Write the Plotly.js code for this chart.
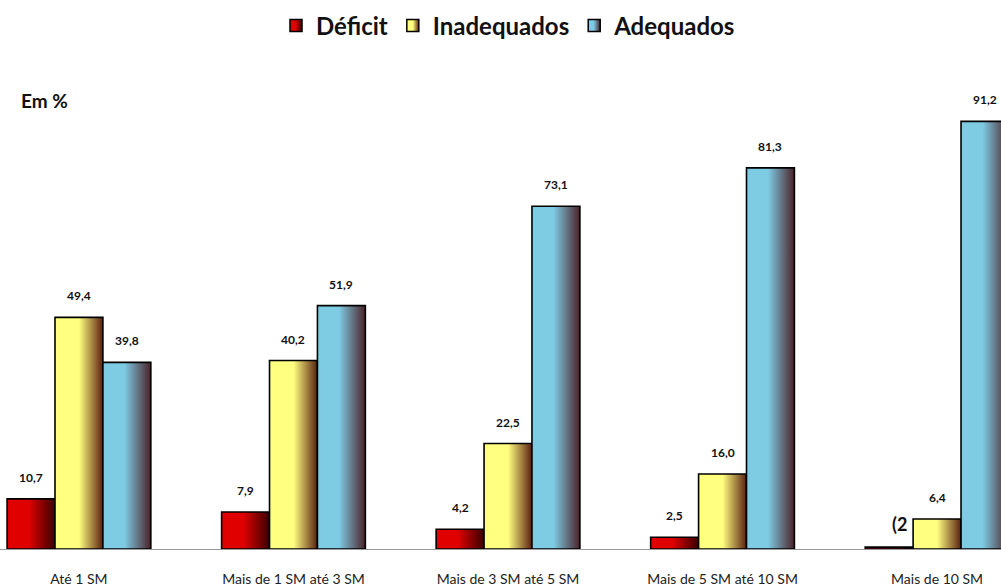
<!DOCTYPE html>
<html>
<head>
<meta charset="utf-8">
<script src="https://cdn.plot.ly/plotly-3.0.1.min.js"></script>
<style>html,body{margin:0;padding:0;background:#fff;}#chart{width:1001px;height:585px;}</style>
</head>
<body>
<div id="chart"></div>
<script>
const categories = ["Até 1 SM", "Mais de 1 SM até 3 SM", "Mais de 3 SM até 5 SM", "Mais de 5 SM até 10 SM", "Mais de 10 SM"];
const seriesNames = ["Déficit", "Inadequados", "Adequados"];
const deficit = [10.7, 7.9, 4.2, 2.5, 0.4];
const inadequados = [49.4, 40.2, 22.5, 16.0, 6.4];
const adequados = [39.8, 51.9, 73.1, 81.3, 91.2];
const deficitLabels = ["10,7", "7,9", "4,2", "2,5", "(2"];
const inadequadosLabels = ["49,4", "40,2", "22,5", "16,0", "6,4"];
const adequadosLabels = ["39,8", "51,9", "73,1", "81,3", "91,2"];

const baseColors = ["#e00000", "#ffff80", "#7ecbe4"];
const darkColors = ["#3a0000", "#5a2010", "#4a2228"];
const solidStops = [0.45, 0.5, 0.45];

const values = [deficit, inadequados, adequados];
const labels = [deficitLabels, inadequadosLabels, adequadosLabels];
const bargap = 0.33;
const w = (1 - bargap) / 3;

const traces = values.map((v, j) => ({
  type: "bar",
  name: seriesNames[j],
  x: categories,
  y: v,
  marker: {color: baseColors[j], line: {color: "#000", width: 1.6}},
  hoverinfo: "none"
}));

const font = "Lato, 'Open Sans', sans-serif";
const annotations = [];
values.forEach((v, j) => {
  v.forEach((val, i) => {
    const special = labels[j][i].startsWith("(");
    annotations.push({
      x: i + (j - 1) * w, y: val, xref: "x", yref: "y",
      text: labels[j][i], showarrow: false,
      yanchor: "bottom", xanchor: "center",
      yshift: special ? 10 : 12, xshift: special ? 10 : 0,
      font: {family: font, size: special ? 18 : 12, color: "#111", weight: "bold"}
    });
  });
});
annotations.push({
  xref: "paper", yref: "paper", x: 0.019, y: 0.918, xanchor: "left", yanchor: "middle",
  text: "Em %", showarrow: false,
  font: {family: font, size: 19, color: "#111", weight: "bold"}
});

const layout = {
  width: 1001, height: 585,
  margin: {l: 0, r: 0, t: 60, b: 36},
  paper_bgcolor: "#fff", plot_bgcolor: "#fff",
  barmode: "group", bargap: bargap, bargroupgap: 0,
  showlegend: true,
  legend: {
    orientation: "h", x: 0.508, xanchor: "center", y: 1.0695, yanchor: "middle",
    font: {family: font, size: 24, color: "#111", weight: "bold"},
    itemclick: false
  },
  xaxis: {
    type: "category", range: [-0.368, 4.298],
    showline: true, linecolor: "#9a9a9a", linewidth: 1,
    ticks: "outside", ticklen: 17, tickcolor: "rgba(0,0,0,0)",
    tickfont: {family: font, size: 14, color: "#222"},
    showgrid: false, zeroline: false, fixedrange: true
  },
  yaxis: {range: [0, 104.3], visible: false, fixedrange: true},
  annotations: annotations
};

Plotly.newPlot("chart", traces, layout, {displayModeBar: false, staticPlot: true}).then(gd => {
  const svg = gd.querySelector(".main-svg");
  const ns = "http://www.w3.org/2000/svg";
  let defs = svg.querySelector("defs");
  if (!defs) { defs = document.createElementNS(ns, "defs"); svg.insertBefore(defs, svg.firstChild); }
  baseColors.forEach((c, j) => {
    const g = document.createElementNS(ns, "linearGradient");
    g.setAttribute("id", "barGrad" + j);
    g.setAttribute("x1", "0"); g.setAttribute("y1", "0");
    g.setAttribute("x2", "1"); g.setAttribute("y2", "0");
    [[0, c], [solidStops[j], c], [1, darkColors[j]]].forEach(([o, col]) => {
      const s = document.createElementNS(ns, "stop");
      s.setAttribute("offset", o); s.setAttribute("stop-color", col);
      g.appendChild(s);
    });
    defs.appendChild(g);
  });
  gd.querySelectorAll(".barlayer .trace.bars").forEach((t, j) => {
    t.querySelectorAll("path").forEach(p => { p.style.fill = "url(#barGrad" + j + ")"; });
  });
  gd.querySelectorAll(".legend .traces").forEach((t, j) => {
    t.querySelectorAll(".legendpoints path").forEach(p => {
      p.style.fill = "url(#barGrad" + j + ")";
      p.style.stroke = "#000"; p.style.strokeWidth = "1.5px";
    });
  });
});
</script>
</body>
</html>
